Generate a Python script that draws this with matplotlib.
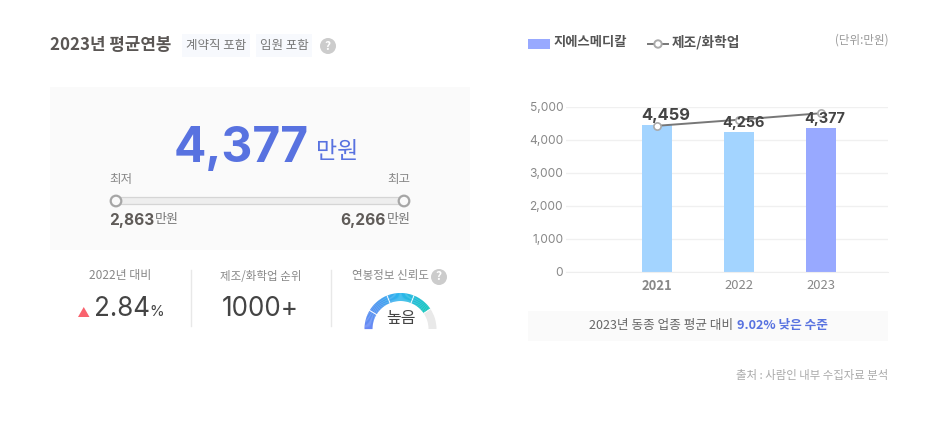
import matplotlib
matplotlib.use('Agg')
import matplotlib.pyplot as plt
from matplotlib.patches import Rectangle, Wedge, Circle, FancyBboxPatch, Polygon
from matplotlib.colors import LinearSegmentedColormap
import numpy as np

plt.rcParams['font.family'] = ['Noto Sans CJK KR', 'DejaVu Sans']

years = ['2021', '2022', '2023']
company = [4459, 4256, 4377]
industry = [4430, 4615, 4811]
bar_colors = ['#a3d4ff', '#a3d4ff', '#98a9ff']
yticks = [0, 1000, 2000, 3000, 4000, 5000]
salary = '4,377'
low = '2,863'
high = '6,266'

W, H = 945, 429
fig = plt.figure(figsize=(W / 100, H / 100), dpi=100, facecolor='white')
bg = fig.add_axes([0, 0, 1, 1])
bg.set_xlim(0, W)
bg.set_ylim(H, 0)
bg.axis('off')

KR = ['Noto Sans CJK KR', 'DejaVu Sans']
INTER = ['Inter', 'Noto Sans CJK KR']


def px(s):
    return s * 0.72


def T(x, y, s, size, color='#666666', ha='left', va='center', weight='normal', family=None):
    return bg.text(x, y, s, fontsize=px(size), color=color, ha=ha, va=va,
                   fontweight=weight, family=family or KR)


def help_icon(x, y, r=8):
    bg.add_patch(Circle((x, y), r, fc='#cccccc', ec='none'))
    T(x, y, '?', r * 1.5, '#ffffff', ha='center', weight='bold')


# Header
T(50, 45, '2023년 평균연봉', 16.8, '#5a5654', weight='bold')
bg.add_patch(Rectangle((182, 34), 68, 23, fc='#f7f9fd', ec='none'))
bg.add_patch(Rectangle((256, 34), 56, 23, fc='#f7f9fd', ec='none'))
T(216, 45, '계약직 포함', 12.5, '#777777', ha='center')
T(284, 45, '임원 포함', 12.5, '#777777', ha='center')
help_icon(328, 46)

# Salary card
bg.add_patch(Rectangle((50, 87), 420, 163, fc='#fafafa', ec='none'))
T(241.5, 149, salary, 48, '#5872e0', ha='center', weight='bold', family=INTER)
T(316, 152, '만원', 23, '#5872e0')
T(109.5, 179, '최저', 12.5, '#888888')
T(410, 179, '최고', 12.5, '#888888', ha='right')
bg.add_patch(FancyBboxPatch((116, 197.5), 288, 7, boxstyle='round,pad=0,rounding_size=2',
                            fc='#eeeeee', ec='#d5d5d5', lw=0.9))
for cx in (116, 404):
    bg.add_patch(Circle((cx, 201), 5.3, fc='#fafafa', ec='#a6a6a6', lw=1.6, zorder=3))
T(109.5, 220.5, low, 15.5, '#5f5b58', weight='bold', family=INTER)
T(155, 220, '만원', 13, '#777777')
T(386, 220.5, high, 15.5, '#5f5b58', ha='right', weight='bold', family=INTER)
T(410.5, 220, '만원', 13, '#777777', ha='right')

# Stats row
T(120, 276, '2022년 대비', 12, '#888888', ha='center')
T(260.5, 276, '제조/화학업 순위', 11.5, '#888888', ha='center')
T(390.5, 276, '연봉정보 신뢰도', 11.5, '#888888', ha='center')
help_icon(439, 277)
for x in (190.5, 330.5):
    bg.plot([x, x], [270, 326], color='#e8e8e8', lw=1)
bg.add_patch(Polygon([[78, 317], [89.5, 317], [83.75, 307]], fc='#f9636e', ec='none'))
T(94, 309, '2.84', 26, '#444444', family=INTER)
T(149, 312, '%', 15, '#444444', family=INTER)
T(260, 309, '1000+', 26, '#444444', ha='center', family=INTER)

# Gauge
gx, gy, gr, gw = 400.5, 329, 36, 8
stops = [(0.0, '#6a88f5'), (0.34, '#4d9bef'), (0.6, '#2ab5ee'), (0.78, '#24bcd8'), (1.0, '#18c7bd')]
cmap = LinearSegmentedColormap.from_list('gauge', stops)
angs = np.linspace(180, 34, 74)
for a0, a1 in zip(angs[:-1], angs[1:]):
    t = (180 - a0) / 146
    bg.add_patch(Wedge((gx, gy), gr, -a0 - 0.2, -a1 + 0.2, width=gw, fc=cmap(t), ec='none'))
bg.add_patch(Wedge((gx, gy), gr, -34, 0, width=gw, fc='#e9e9e9', ec='none'))
for a in (149, 112, 68, 34):
    r = np.radians(a)
    bg.plot([gx + (gr - gw - 0.5) * np.cos(r), gx + (gr + 0.5) * np.cos(r)],
            [gy - (gr - gw - 0.5) * np.sin(r), gy - (gr + 0.5) * np.sin(r)],
            color='white', lw=0.7, zorder=3, solid_capstyle='butt')
T(400.5, 318, '높음', 16, '#444444', ha='center')

# Legend
bg.add_patch(Rectangle((528, 39), 22, 10, fc='#98a9ff', ec='none'))
T(554, 42, '지에스메디칼', 13.3, '#555555', weight='bold')
bg.plot([648, 668], [44, 44], color='#777777', lw=1.4)
bg.add_patch(Circle((658, 44), 3.7, fc='white', ec='#aaaaaa', lw=1.4, zorder=3))
T(672, 42, '제조/화학업', 13.7, '#555555', weight='bold')
T(888, 40, '(단위:만원)', 11.5, '#999999', ha='right')

# Chart
left, right, top, bottom = 566, 888, 107, 272
ax = fig.add_axes([left / W, 1 - bottom / H, (right - left) / W, (bottom - top) / H])
ax.patch.set_alpha(0)
ax.set_ylim(0, 5000)
ax.set_xlim((left - 657) / 82, (right - 657) / 82)
x = np.arange(len(years))
ax.bar(x, company, width=30 / 82, color=bar_colors, zorder=2)
ax.plot(x, industry, color='#777777', lw=1.4, marker='o', ms=5.2, mfc='white', mec='#aaaaaa',
        mew=1.2, zorder=3)
ax.set_yticks(yticks)
ax.set_yticklabels([f'{v:,}' for v in yticks], fontsize=px(12), color='#888888', family=INTER)
ax.set_xticks(x)
ax.set_xticklabels(years, fontsize=px(13), color='#888888', family=KR)
ax.get_xticklabels()[0].set_fontweight('bold')
ax.tick_params(length=0)
ax.tick_params(axis='y', pad=2)
ax.tick_params(axis='x', pad=5)
ax.grid(axis='y', color='#f0f0f0', lw=1, zorder=0)
ax.set_axisbelow(True)
for s in ax.spines.values():
    s.set_visible(False)
ax.spines['bottom'].set_visible(True)
ax.spines['bottom'].set_color('#eeeeee')
for xi, v, fs, dx in zip(x, company, (16.5, 14.5, 14.5), (6, 2.9, 2.9)):
    ax.annotate(f'{v:,}', (xi, v), xytext=(dx, 1.1), textcoords='offset points', ha='center', va='bottom',
                fontsize=px(fs), fontweight='bold', color='#444444', family=INTER, zorder=4)

# Footer
bg.add_patch(Rectangle((528, 311), 360, 30, fc='#fafafa', ec='none'))
T(733, 325, '2023년 동종 업종 평균 대비', 12.6, '#666666', ha='right')
T(737, 325, '9.02% 낮은 수준', 12.7, '#5872e0', weight='bold', ha='left')
T(888, 375, '출처 : 사람인 내부 수집자료 분석', 11.4, '#aaaaaa', ha='right')

fig.savefig('out.png', dpi=100, facecolor='white')
